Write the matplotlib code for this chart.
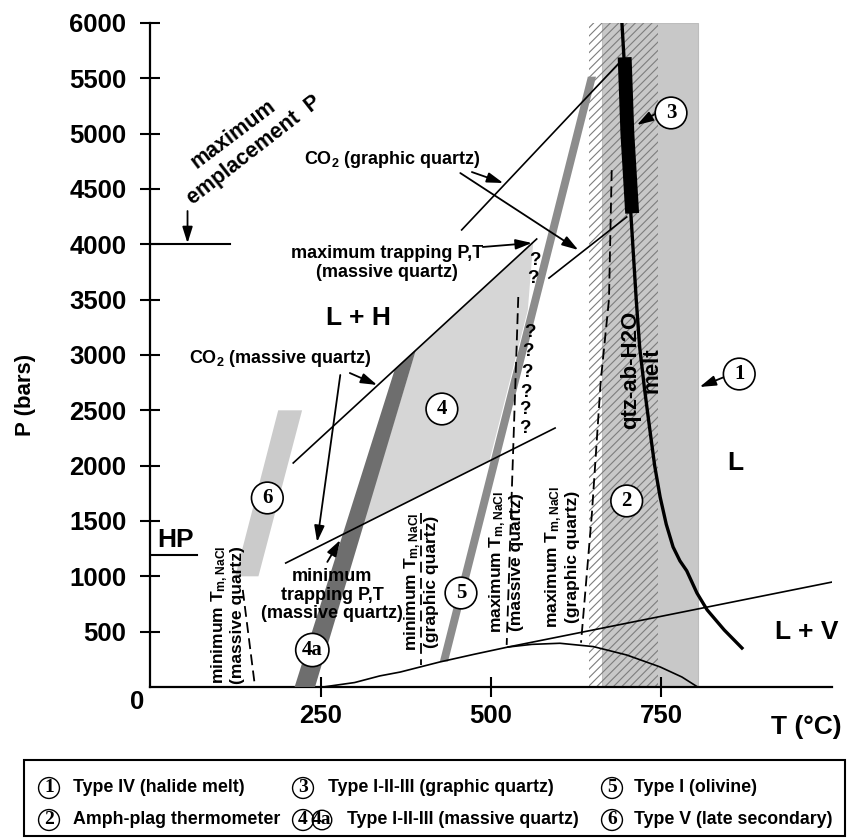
import matplotlib
matplotlib.use("Agg")
import matplotlib.pyplot as plt
from matplotlib.patches import Polygon, Rectangle

plt.rcParams['font.family'] = ['Liberation Sans', 'DejaVu Sans']
plt.rcParams['font.weight'] = 'bold'
plt.rcParams['mathtext.fontset'] = 'custom'
plt.rcParams['mathtext.bf'] = 'Liberation Sans:bold'
plt.rcParams['mathtext.rm'] = 'Liberation Sans:bold'
plt.rcParams['mathtext.default'] = 'bf'
plt.rcParams['hatch.linewidth'] = 0.8

# ---- data: T in deg C, P in bars ----
x_ticks = [250, 500, 750]
y_ticks = [500, 1000, 1500, 2000, 2500, 3000, 3500, 4000, 4500, 5000, 5500, 6000]

halide_T = [663, 803]      # (1) type IV halide melt band
amph_T = [644, 745]        # (2) amph-plag thermometer band

solidus_T = [692, 695, 705, 713, 718, 725, 733, 740, 748, 757, 767, 777, 787, 802, 817, 842, 868]
solidus_P = [6000, 5685, 4285, 3497, 3072, 2700, 2322, 2000, 1717, 1470, 1265, 1140, 1050, 849, 696, 515, 352]

bar3_T = [696, 700, 707]   # (3) type I-II-III graphic quartz
bar3_P = [5690, 5000, 4280]

type6_T = [125, 159, 223, 188]
type6_P = [1000, 1000, 2500, 2500]
type4a_T = [212, 242, 390, 359]
type4a_P = [0, 0, 3047, 2871]
type4_T = [312, 390, 562, 554, 498]
type4_P = [1470, 3047, 4021, 3406, 2050]
type5_T = [425, 437, 654, 642]
type5_P = [230, 230, 5515, 5515]

co2_mass_hi_T = [210, 567]
co2_mass_hi_P = [2024, 4048]
co2_mass_lo_T = [199, 594]
co2_mass_lo_P = [1120, 2340]
co2_graph_hi_T = [457, 692]
co2_graph_hi_P = [4130, 5666]
co2_graph_lo_T = [585, 699]
co2_graph_lo_P = [3695, 4247]

lv_curve_T = [254, 300, 337, 367, 425, 475, 525, 560, 601, 650, 699, 748, 780, 803]
lv_curve_P = [0, 40, 100, 135, 226, 295, 361, 385, 395, 365, 289, 181, 90, 0]
lv_line_T = [525, 1000]
lv_line_P = [361, 948]

tm_min_mass_T = [136, 154]
tm_min_mass_P = [877, 0]
tm_min_graph_T = [398, 398]
tm_min_graph_P = [1572, 199]
tm_max_mass_T = [540, 523]
tm_max_mass_P = [3524, 380]
tm_max_graph_T = [677, 673, 661, 648, 632]
tm_max_graph_P = [4670, 3500, 2770, 1570, 400]

emplace_T = [0, 117]
emplace_P = [4000, 4000]
hp_T = [0, 69]
hp_P = [1190, 1190]

q_T = [564, 562, 557, 554, 553, 551, 550, 549]
q_P = [3857, 3695, 3207, 3027, 2846, 2665, 2503, 2340]

circle_labels = ['3', '1', '2', '4', '5', '6', '4a']
circle_T = [764, 864, 699, 428, 456, 172, 238]
circle_P = [5187, 2828, 1681, 2512, 849, 1708, 334]

fig = plt.figure(figsize=(8.48, 8.39), dpi=100)
ax = fig.add_axes([0.1769, 0.1812, 0.8042, 0.7914])
ax.set_xlim(0, 1000)
ax.set_ylim(0, 6000)

# bands
ax.add_patch(Rectangle((halide_T[0], 0), halide_T[1] - halide_T[0], 6000,
                       fc='#c8c8c8', ec='#bdbdbd', lw=0.8, zorder=1))
ax.add_patch(Rectangle((amph_T[0], 0), amph_T[1] - amph_T[0], 6000,
                       fc='none', ec='#7d7d7d', lw=0, hatch='////', zorder=1.5))

ax.add_patch(Polygon(list(zip(type6_T, type6_P)), closed=True, fc='#cbcbcb', ec='none', zorder=2))
ax.add_patch(Polygon(list(zip(type4_T, type4_P)), closed=True, fc='#d6d6d6', ec='none', zorder=2))
ax.add_patch(Polygon(list(zip(type4a_T, type4a_P)), closed=True, fc='#6e6e6e', ec='none', zorder=3))
ax.add_patch(Polygon(list(zip(type5_T, type5_P)), closed=True, fc='#8c8c8c', ec='none', zorder=3))

# lines
thin = dict(color='k', lw=1.2, zorder=4)
ax.plot(co2_mass_hi_T, co2_mass_hi_P, **thin)
ax.plot(co2_mass_lo_T, co2_mass_lo_P, **thin)
ax.plot(co2_graph_hi_T, co2_graph_hi_P, **thin)
ax.plot(co2_graph_lo_T, co2_graph_lo_P, **thin)
ax.plot(lv_curve_T, lv_curve_P, **thin)
ax.plot(lv_line_T, lv_line_P, **thin)
ax.plot(emplace_T, emplace_P, color='k', lw=1.5, zorder=4)
ax.plot(hp_T, hp_P, color='k', lw=1.5, zorder=4)
ax.plot(solidus_T, solidus_P, color='k', lw=2.4, zorder=5)
ax.plot(bar3_T, bar3_P, color='k', lw=10, solid_capstyle='butt', zorder=5)

dash = dict(color='k', lw=1.3, linestyle=(0, (6, 3)), zorder=4)
ax.plot(tm_min_mass_T, tm_min_mass_P, **dash)
ax.plot(tm_min_graph_T, tm_min_graph_P, **dash)
ax.plot(tm_max_mass_T, tm_max_mass_P, **dash)
ax.plot(tm_max_graph_T, tm_max_graph_P, **dash)

for t, p in zip(q_T, q_P):
    ax.text(t, p, '?', fontsize=13.5, ha='center', va='center', zorder=6)

# arrows
arw = dict(arrowstyle='-|>,head_length=0.7,head_width=0.22', color='k', lw=1.3,
           shrinkA=0, shrinkB=0, mutation_scale=14)
arrows = [((55, 4301), (55, 4010)),
          ((743, 5187), (714, 5078)),
          ((842, 2801), (806, 2711)),
          ((488, 3976), (560, 4012)),
          ((472, 4653), (518, 4554)),
          ((455, 4644), (628, 3949)),
          ((293, 2837), (333, 2729)),
          ((279, 2819), (245, 1310)),
          ((260, 1130), (279, 1328))]
for tail, tip in arrows:
    ax.annotate('', xy=tip, xytext=tail, arrowprops=arw, zorder=6)

# annotations
ax.text(122, 4997, 'maximum', fontsize=15.5, rotation=37, ha='center', va='center',
        rotation_mode='anchor')
ax.text(153, 4850, 'emplacement  P', fontsize=15.5, rotation=38, ha='center', va='center',
        rotation_mode='anchor')
ax.text(355, 4762, 'CO$_2$ (graphic quartz)', fontsize=13, ha='center', va='center')
ax.text(347, 3831, 'maximum trapping P,T\n(massive quartz)', fontsize=13,
        ha='center', va='center', multialignment='center', linespacing=1.1)
ax.text(191, 2964, 'CO$_2$ (massive quartz)', fontsize=13, ha='center', va='center')
ax.text(267, 831, 'minimum\ntrapping P,T\n(massive quartz)', fontsize=13,
        ha='center', va='center', multialignment='center', linespacing=1.1)
ax.text(305, 3334, 'L + H', fontsize=19, ha='center', va='center')
ax.text(858, 2024, 'L', fontsize=19, ha='center', va='center')
ax.text(963, 497, 'L + V', fontsize=19, ha='center', va='center')
ax.text(37, 1328, 'HP', fontsize=19, ha='center', va='center')
ax.text(720, 2864, 'qtz-ab-H2O\nmelt', fontsize=16, rotation=90, ha='center', va='center',
        multialignment='center', linespacing=1.0, zorder=6)

tm_labels = [(113, 650, 'minimum T$_{m,NaCl}$\n(massive quartz)'),
             (397, 949, 'minimum T$_{m,NaCl}$\n(graphic quartz)'),
             (522, 1130, 'maximum T$_{m,NaCl}$\n(massive quartz)'),
             (604, 1175, 'maximum T$_{m,NaCl}$\n(graphic quartz)')]
for t, p, s in tm_labels:
    ax.text(t, p, s, fontsize=12.5, rotation=90, ha='center', va='center',
            multialignment='center', linespacing=1.05, zorder=6)

for lab, t, p in zip(circle_labels, circle_T, circle_P):
    pad = 0.3 if lab == '4a' else 0.28
    ax.text(t, p, lab, fontsize=15, fontfamily='Liberation Serif', fontweight='bold',
            ha='center', va='center', zorder=7,
            bbox=dict(boxstyle='circle,pad=%s' % pad, fc='white', ec='k', lw=1.2))

# axes style
for s in ['top', 'right']:
    ax.spines[s].set_visible(False)
for s in ['left', 'bottom']:
    ax.spines[s].set_linewidth(1.6)
ax.set_xticks(x_ticks)
ax.set_yticks(y_ticks)
ax.tick_params(direction='inout', length=14, width=1.5, labelsize=18.5)
ax.tick_params(axis='y', pad=10)
ax.tick_params(axis='x', pad=5)
ax.text(-19, -136, '0', fontsize=18.5, ha='center', va='center', clip_on=False)
ax.text(963, -361, 'T (°C)', fontsize=19, ha='center', va='center', clip_on=False)
fig.text(25 / 848, 1 - 395 / 839, 'P (bars)', fontsize=16, rotation=90,
         ha='center', va='center')

# legend box
fig.add_artist(Rectangle((24 / 848, 0.003), 821 / 848, 0.091, transform=fig.transFigure,
                         fill=False, ec='k', lw=1.5))
leg_circle = ['1', '2', '3', '4', '5', '6']
leg_text = ['Type IV (halide melt)', 'Amph-plag thermometer',
            'Type I-II-III (graphic quartz)', 'Type I-II-III (massive quartz)',
            'Type I (olivine)', 'Type V (late secondary)']
leg_cx = [49, 49, 303, 303, 612, 612]
leg_tx = [73, 73, 328, 347, 634, 634]
leg_y = [788, 820, 788, 820, 788, 820]
cbox = dict(boxstyle='circle,pad=0.1', fc='white', ec='k', lw=1.0)
for c, s, cx, tx, y in zip(leg_circle, leg_text, leg_cx, leg_tx, leg_y):
    fy = 1 - y / 839
    fig.text(cx / 848, fy, c, fontsize=14, fontfamily='Liberation Serif',
             ha='center', va='center', bbox=cbox)
    fig.text(tx / 848, fy, s, fontsize=12.8, ha='left', va='center')
fig.text(322 / 848, 1 - 820 / 839, '4a', fontsize=14, fontfamily='Liberation Serif',
         ha='center', va='center', bbox=dict(boxstyle='circle,pad=0.0', fc='none', ec='k', lw=1.0))

fig.savefig('out.png', dpi=100)
